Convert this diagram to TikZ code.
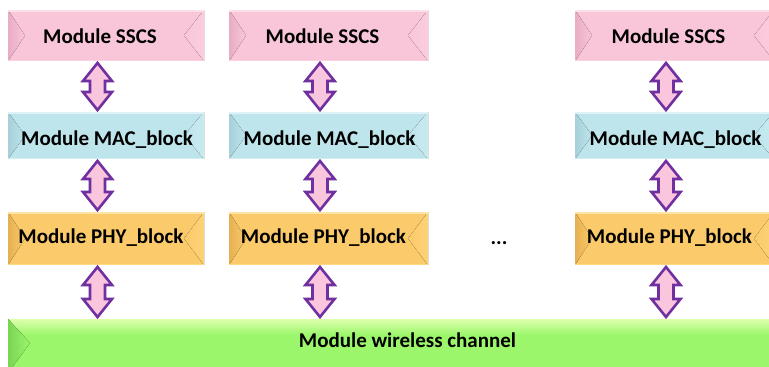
\documentclass[tikz,border=0pt]{standalone}
\usepackage{fontspec}
\setmainfont{Carlito}
\usetikzlibrary{calc}

% layer colours: base, darker left bevel, lighter right bevel / top rim
\definecolor{ssc}{RGB}{249,198,217}
\definecolor{sscdark}{RGB}{232,172,196}
\definecolor{ssclight}{RGB}{253,208,224}
\definecolor{mac}{RGB}{190,229,236}
\definecolor{macdark}{RGB}{166,208,218}
\definecolor{maclight}{RGB}{206,238,244}
\definecolor{phy}{RGB}{251,202,107}
\definecolor{phydark}{RGB}{230,176,82}
\definecolor{phylight}{RGB}{253,216,126}
\definecolor{chan}{RGB}{155,246,107}
\definecolor{chandark}{RGB}{122,212,84}
\definecolor{chanlight}{RGB}{222,255,172}
\definecolor{arrowline}{RGB}{112,48,160}
\definecolor{arrowfill}{RGB}{250,198,222}

\tikzset{
  modtext/.style={font=\fontsize{21}{24}\selectfont\bfseries, text=black,
                  inner sep=0pt, anchor=base},
  box/.style={inner sep=0pt, outer sep=0pt},
  linkarrow/.style={draw=arrowline, fill=arrowfill, line width=2.6pt,
                    line join=miter},
}

% bevelled box: name, x0, y0, x1, y1, colour prefix
\newcommand\bevelbox[6]{%
  \node[box, fill=#6, minimum width={(#4-#2)*1pt}, minimum height={(#5-#3)*1pt}]
    (#1) at ({(#2+#4)/2},{(#3+#5)/2}) {};
  \fill[left color=#6dark, right color=#6]
    (#1.north west) -- ($(#1.west)+(17,0)$) -- (#1.south west) -- cycle;
  \fill[left color=#6, right color=#6light!60!#6]
    (#1.north east) -- ($(#1.east)+(-20,0)$) -- (#1.south east) -- cycle;
  \fill[#6light!70!white] (#1.north west) rectangle ($(#1.north east)+(0,2)$);
  \fill[#6light] ($(#1.south west)+(0,-1.5)$) rectangle (#1.south east);
}

% two-headed block arrow from the bottom of one box to the top of the next
\newcommand\linkarrow[2]{%
  \draw[linkarrow] let \p1=(#1.south), \p2=(#2.north) in
    ({\x1-8.5pt},{\y1-2pt})
    -- ({\x1-8.5pt+14.5pt},{\y1-20pt}) -- ({\x1-8.5pt+7.5pt},{\y1-20pt})
    -- ({\x1-8.5pt+7.5pt},{\y2+20pt}) -- ({\x1-8.5pt+14.5pt},{\y2+20pt})
    -- ({\x1-8.5pt},{\y2+2pt})
    -- ({\x1-8.5pt-14.5pt},{\y2+20pt}) -- ({\x1-8.5pt-7.5pt},{\y2+20pt})
    -- ({\x1-8.5pt-7.5pt},{\y1-20pt}) -- ({\x1-8.5pt-14.5pt},{\y1-20pt})
    -- cycle;
}

\begin{document}
\begin{tikzpicture}[x=1pt, y=-1pt]
  \useasboundingbox (0,0) rectangle (769,367);
  \clip (0,0) rectangle (769,367);
  \fill[white] (0,0) rectangle (769,367);

  % three node stacks
  \bevelbox{sscsA}{8}{10}{204}{61}{ssc}
  \bevelbox{macA}{8}{112}{204}{159}{mac}
  \bevelbox{phyA}{8}{212}{204}{265}{phy}

  \bevelbox{sscsB}{229}{10}{428}{61}{ssc}
  \bevelbox{macB}{229}{112}{428}{159}{mac}
  \bevelbox{phyB}{229}{212}{428}{265}{phy}

  \bevelbox{sscsC}{575}{10}{774}{61}{ssc}
  \bevelbox{macC}{575}{112}{774}{159}{mac}
  \bevelbox{phyC}{575}{212}{774}{265}{phy}

  % shared channel bar
  \node[box, fill=chan, minimum width=767pt, minimum height=54pt]
    (chan) at (391.5,346) {};
  \fill[top color=chanlight, bottom color=chan]
    (chan.north west) rectangle ($(chan.north east)+(0,16)$);
  \fill[left color=chandark, right color=chan]
    (chan.north west) -- ($(chan.north west)+(22,24)$)
    -- (chan.south west) -- cycle;

  % labels
  \foreach \c in {A,B,C}{
    \node[modtext] (sscsT\c) at ($(sscs\c.center)+(-6,7.5)$) {Module SSCS};
    \node[modtext] (macT\c)  at ($(mac\c.center)+(1,10)$)   {Module MAC\_block};
    \node[modtext] (phyT\c)  at ($(phy\c.center)+(-5,4.5)$) {Module PHY\_block};
  }
  \node[modtext] (chanT) at (407.5,347) {Module wireless channel};
  \node[modtext] (dots) at (499,244) {...};

  % links between the layers
  \foreach \c in {A,B,C}{
    \linkarrow{sscs\c}{mac\c}
    \linkarrow{mac\c}{phy\c}
    \linkarrow{phy\c}{chan}
  }
\end{tikzpicture}
\end{document}
